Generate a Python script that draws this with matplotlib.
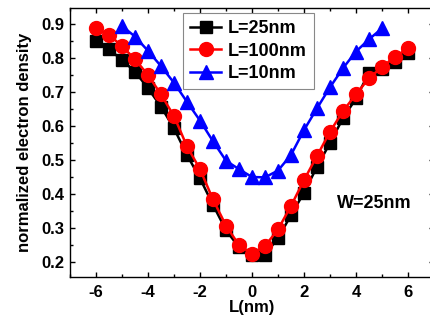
import matplotlib
matplotlib.use("Agg")
import matplotlib.pyplot as plt
from matplotlib.ticker import MultipleLocator

plt.rcParams['font.family'] = ['Liberation Sans', 'DejaVu Sans']
plt.rcParams['font.weight'] = 'bold'
plt.rcParams['axes.unicode_minus'] = False

x_25 = [-6, -5.5, -5, -4.5, -4, -3.5, -3, -2.5, -2, -1.5, -1, -0.5, 0,
        0.5, 1, 1.5, 2, 2.5, 3, 3.5, 4, 4.5, 5, 5.5, 6]
y_25 = [0.851, 0.826, 0.794, 0.760, 0.711, 0.657, 0.593, 0.515, 0.446, 0.368,
        0.294, 0.243, 0.220, 0.222, 0.270, 0.338, 0.404, 0.480, 0.550, 0.623,
        0.681, 0.757, 0.767, 0.789, 0.816]

x_100 = x_25
y_100 = [0.887, 0.868, 0.835, 0.796, 0.750, 0.693, 0.629, 0.540, 0.473, 0.384,
         0.307, 0.250, 0.224, 0.247, 0.296, 0.365, 0.441, 0.512, 0.583, 0.644,
         0.693, 0.741, 0.773, 0.804, 0.828]

x_10 = [-5, -4.5, -4, -3.5, -3, -2.5, -2, -1.5, -1, -0.5, 0,
        0.5, 1, 1.5, 2, 2.5, 3, 3.5, 4, 4.5, 5]
y_10 = [0.894, 0.863, 0.821, 0.776, 0.727, 0.671, 0.616, 0.555, 0.498, 0.473,
        0.450, 0.449, 0.469, 0.515, 0.588, 0.652, 0.714, 0.770, 0.819, 0.855,
        0.887]

labels = ['L=25nm', 'L=100nm', 'L=10nm']
annotation = 'W=25nm'
x_label = 'L(nm)'
y_label = 'normalized electron density'

W, H = 431, 334
fig = plt.figure(figsize=(W / 100, H / 100), dpi=100)
ax = fig.add_axes([70 / W, 1 - 277 / H, (434 - 70) / W, (277 - 8) / H])

ax.plot(x_25, y_25, color='black', marker='s', markersize=8.5, lw=1.8, label=labels[0], zorder=3)
ax.plot(x_100, y_100, color='#ff0000', marker='o', markersize=10, lw=1.8, label=labels[1], zorder=4)
ax.plot(x_10, y_10, color='#0000ff', marker='^', markersize=10, lw=1.8, label=labels[2], zorder=5)

ax.set_xlim(-7, 7)
ax.set_ylim(0.156, 0.947)
ax.xaxis.set_major_locator(MultipleLocator(2))
ax.xaxis.set_minor_locator(MultipleLocator(1))
ax.yaxis.set_major_locator(MultipleLocator(0.1))
ax.yaxis.set_minor_locator(MultipleLocator(0.05))
ax.tick_params(which='both', direction='in', top=True, right=True, width=1.0)
ax.tick_params(which='major', length=3.5, labelsize=12)
ax.tick_params(which='minor', length=2)
ax.tick_params(axis='y', pad=4)
ax.tick_params(axis='x', pad=6)
for lab in ax.get_xticklabels() + ax.get_yticklabels():
    lab.set_fontweight('bold')
for s in ax.spines.values():
    s.set_linewidth(1.0)

ax.set_xlabel(x_label, fontsize=12, fontweight='bold', labelpad=0)
ax.set_ylabel(y_label, fontsize=12, fontweight='bold', labelpad=7)

ax.text(374 / W, 1 - 203 / H, annotation, transform=fig.transFigure,
        fontsize=13, fontweight='bold', ha='center', va='center')

leg = ax.legend(loc='upper left', bbox_to_anchor=(183 / W, 1 - 13 / H),
                bbox_transform=fig.transFigure, borderaxespad=0,
                prop={'size': 13, 'weight': 'bold'}, handlelength=1.7,
                handletextpad=0.4, labelspacing=0.3, borderpad=0.4,
                fancybox=False, framealpha=1, edgecolor='#888888')
leg.get_frame().set_linewidth(0.8)

fig.savefig('out.png', dpi=100)
